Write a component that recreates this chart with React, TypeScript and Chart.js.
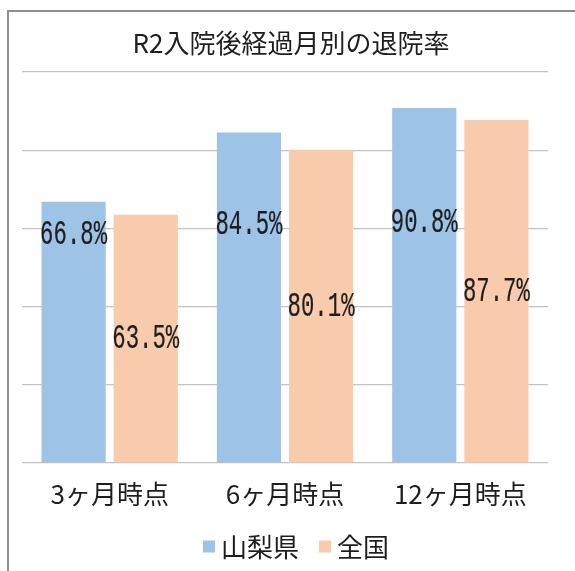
import React, { useEffect, useRef } from 'react';
import { Chart, registerables } from 'chart.js';

Chart.register(...registerables);

const titleText = 'R2入院後経過月別の退院率';
const categories = ['3ヶ月時点', '6ヶ月時点', '12ヶ月時点'];
const seriesNames = ['山梨県', '全国'];
const yamanashi = [66.8, 84.5, 90.8];
const national = [63.5, 80.1, 87.7];
// value-axis positions where the data labels sit (as in the source)
const yamanashiLabelAt = [58.3, 60.9, 61.4];
const nationalLabelAt = [31.7, 40.0, 43.8];
const yMin = 0;
const yMax = 100;
const yStep = 20;
const seriesColors = ['#9DC3E6', '#F8CBAD'];

const CJK = '"Noto Sans CJK JP", "Noto Sans", sans-serif';
const TEXT = '#1e1e1e';

const overlayPlugin = {
  id: 'overlay',
  afterDraw(chart: any) {
    const ctx = chart.ctx as CanvasRenderingContext2D;
    const yScale = chart.scales.y;
    const anchors = [yamanashiLabelAt, nationalLabelAt];

    // data labels
    chart.data.datasets.forEach((ds: any, i: number) => {
      const meta = chart.getDatasetMeta(i);
      meta.data.forEach((el: any, j: number) => {
        const v = ds.data[j] as number;
        const py = yScale.getPixelForValue(anchors[i][j]);
        ctx.save();
        ctx.translate(el.x, py);
        ctx.scale(0.77, 1.2);
        ctx.font = '29px "Liberation Mono", "DejaVu Sans Mono", monospace';
        ctx.fillStyle = TEXT;
        ctx.strokeStyle = TEXT;
        ctx.lineWidth = 0.2;
        ctx.textAlign = 'center';
        ctx.textBaseline = 'middle';
        ctx.fillText(v.toFixed(1) + '%', 0, 0);
        ctx.strokeText(v.toFixed(1) + '%', 0, 0);
        ctx.restore();
      });
    });

    // title
    ctx.save();
    ctx.font = '26px ' + CJK;
    ctx.fillStyle = TEXT;
    ctx.textAlign = 'center';
    ctx.textBaseline = 'middle';
    ctx.fillText(titleText, 291, 43);
    ctx.restore();

    // legend
    ctx.save();
    ctx.font = '26px ' + CJK;
    ctx.textBaseline = 'middle';
    ctx.textAlign = 'left';
    const box = 12;
    const gapText = 6;
    const gapItem = 20;
    const items = chart.data.datasets.map((ds: any) => ({
      label: ds.label as string,
      color: ds.backgroundColor as string,
      w: ctx.measureText(ds.label).width,
    }));
    const total = items.reduce((s: number, it: any, k: number) => s + box + gapText + it.w + (k > 0 ? gapItem : 0), 0);
    let x = 296 - total / 2;
    const cy = 547;
    items.forEach((it: any) => {
      ctx.fillStyle = it.color;
      ctx.fillRect(x, cy - box / 2 - 0.5, box, box);
      x += box + gapText;
      ctx.fillStyle = TEXT;
      ctx.fillText(it.label, x, cy);
      x += it.w + gapItem;
    });
    ctx.restore();
  },
};

export default function App() {
  const canvasRef = useRef<HTMLCanvasElement | null>(null);

  useEffect(() => {
    if (!canvasRef.current) return;
    const chart = new Chart(canvasRef.current, {
      type: 'bar',
      data: {
        labels: categories,
        datasets: [
          {
            label: seriesNames[0],
            data: yamanashi,
            backgroundColor: seriesColors[0],
            borderWidth: 0,
            categoryPercentage: 0.823,
            barPercentage: 0.889,
          },
          {
            label: seriesNames[1],
            data: national,
            backgroundColor: seriesColors[1],
            borderWidth: 0,
            categoryPercentage: 0.823,
            barPercentage: 0.889,
          },
        ],
      },
      options: {
        responsive: false,
        animation: false,
        devicePixelRatio: 1,
        layout: { padding: { left: 0, right: 27, top: 72, bottom: 0 } },
        plugins: {
          legend: { display: false },
          title: { display: false },
          tooltip: { enabled: false },
        },
        scales: {
          x: {
            grid: { display: false, drawTicks: false },
            border: { display: false },
            ticks: {
              padding: 16,
              color: TEXT,
              font: { family: CJK, size: 26 },
              maxRotation: 0,
            },
            afterFit: (s: any) => {
              s.height = 108;
            },
          },
          y: {
            min: yMin,
            max: yMax,
            ticks: { stepSize: yStep, display: false },
            grid: { color: '#c3c3c3', lineWidth: 1.2, drawTicks: false },
            border: { display: false },
            afterFit: (s: any) => {
              s.width = 22;
            },
          },
        },
      },
      plugins: [overlayPlugin],
    } as any);
    return () => chart.destroy();
  }, []);

  return (
    <div style={{ position: 'fixed', left: 0, top: 0, width: 575, height: 571, background: '#fff' }}>
      <div
        style={{
          position: 'absolute',
          left: 7,
          top: 10,
          right: -10,
          bottom: -10,
          borderLeft: '2px solid #8f8f8f',
          borderTop: '2px solid #8f8f8f',
        }}
      />
      <canvas ref={canvasRef} width={575} height={571} style={{ position: 'absolute', left: 0, top: 0 }} />
    </div>
  );
}
